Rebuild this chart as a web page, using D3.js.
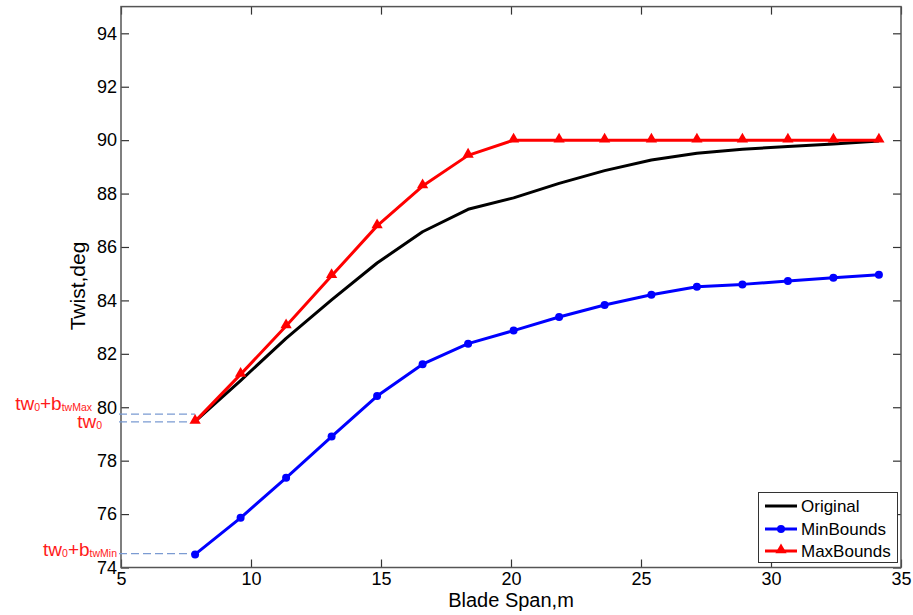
<!DOCTYPE html>
<html>
<head>
<meta charset="utf-8">
<script src="https://cdn.jsdelivr.net/npm/d3@7"></script>
<style>
  html, body { margin: 0; padding: 0; background: #fff; }
  svg { display: block; font-family: "Liberation Sans", Arial, sans-serif; }
</style>
</head>
<body>
<svg id="chart" width="913" height="615"></svg>
<script>
// Blade stations along the span (m)
const span = [7.85, 9.6, 11.35, 13.1, 14.85, 16.6, 18.35, 20.1, 21.85, 23.6, 25.4, 27.15, 28.9, 30.65, 32.4, 34.15];
// Twist distributions (deg)
const original  = [79.47, 81.0, 82.58, 84.02, 85.4, 86.57, 87.41, 87.84, 88.38, 88.86, 89.26, 89.51, 89.66, 89.76, 89.86, 89.97];
const minBounds = [74.49, 75.86, 77.36, 78.9, 80.42, 81.61, 82.38, 82.87, 83.38, 83.83, 84.21, 84.51, 84.6, 84.73, 84.85, 84.96];
const maxBounds = [79.47, 81.23, 83.04, 84.92, 86.79, 88.28, 89.43, 90, 90, 90, 90, 90, 90, 90, 90, 90];
// Reference twist levels at the root station
const tw0 = 79.45, twMaxRef = 79.74, twMinRef = 74.52;
const xTicks = [5, 10, 15, 20, 25, 30, 35];
const yTicks = [74, 76, 78, 80, 82, 84, 86, 88, 90, 92, 94];
const seriesNames = ["Original", "MinBounds", "MaxBounds"];

const svg = d3.select("#chart");
const L = 121, R = 901, T = 6.6, B = 567.5;
const x = d3.scaleLinear().domain([5, 35]).range([L, R]);
const y = d3.scaleLinear().domain([74, 95]).range([B, T]);

// Tick marks (inside, mirrored on all four sides)
const tickLen = 8;
const font = "Liberation Sans, Arial, sans-serif";
const gAx = svg.append("g");
gAx.append("g").attr("transform", `translate(0,${B})`)
  .call(d3.axisBottom(x).tickValues(xTicks).tickSizeInner(-tickLen).tickSizeOuter(0).tickPadding(5))
  .call(g => g.select(".domain").remove())
  .call(g => g.selectAll("text").attr("font-size", 18).attr("fill", "#000").attr("font-family", font));
gAx.append("g").attr("transform", `translate(0,${T})`)
  .call(d3.axisTop(x).tickValues(xTicks).tickSizeInner(-tickLen).tickSizeOuter(0).tickFormat(""))
  .call(g => g.select(".domain").remove());
gAx.append("g").attr("transform", `translate(${L},0)`)
  .call(d3.axisLeft(y).tickValues(yTicks).tickSizeInner(-tickLen).tickSizeOuter(0).tickPadding(4))
  .call(g => g.select(".domain").remove())
  .call(g => g.selectAll("text").attr("font-size", 18).attr("fill", "#000").attr("font-family", font));
gAx.append("g").attr("transform", `translate(${R},0)`)
  .call(d3.axisRight(y).tickValues(yTicks).tickSizeInner(-tickLen).tickSizeOuter(0).tickFormat(""))
  .call(g => g.select(".domain").remove());
gAx.selectAll(".tick line").attr("stroke", "#333").attr("stroke-width", 1.2);

// Axes box
svg.append("rect").attr("x", L).attr("y", T).attr("width", R - L).attr("height", B - T)
  .attr("fill", "none").attr("stroke", "#555").attr("stroke-width", 1.5);

// Reference dashed levels
const dashColor = "#7b9bd2";
[tw0, twMaxRef, twMinRef].forEach(v => {
  svg.append("line").attr("x1", L - 2).attr("x2", x(span[0]))
    .attr("y1", y(v)).attr("y2", y(v))
    .attr("stroke", dashColor).attr("stroke-width", 1.2).attr("stroke-dasharray", "8,4");
});

// Series
const line = d3.line().x((d, i) => x(span[i])).y(d => y(d));
svg.append("path").datum(original).attr("d", line)
  .attr("fill", "none").attr("stroke", "#000").attr("stroke-width", 3).attr("stroke-linejoin", "round");
svg.append("path").datum(minBounds).attr("d", line)
  .attr("fill", "none").attr("stroke", "#0000ff").attr("stroke-width", 3).attr("stroke-linejoin", "round");
svg.append("g").selectAll("circle").data(minBounds).join("circle")
  .attr("cx", (d, i) => x(span[i])).attr("cy", d => y(d)).attr("r", 4).attr("fill", "#0000ff");
svg.append("path").datum(maxBounds).attr("d", line)
  .attr("fill", "none").attr("stroke", "#ff0000").attr("stroke-width", 3).attr("stroke-linejoin", "round");
const tri = d3.symbol().type(d3.symbolTriangle).size(55);
svg.append("g").selectAll("path").data(maxBounds).join("path")
  .attr("d", tri).attr("transform", (d, i) => `translate(${x(span[i])},${y(d) - 1})`).attr("fill", "#ff0000");

// Axis titles
svg.append("text").attr("x", 511).attr("y", 607).attr("text-anchor", "middle")
  .attr("font-size", 20).attr("fill", "#000").text("Blade Span,m");
svg.append("text").attr("transform", "translate(85,286) rotate(-90)").attr("text-anchor", "middle")
  .attr("font-size", 21).attr("fill", "#000").text("Twist,deg");

// Red reference labels with subscripts
function refLabel(xr, yb, parts) {
  const t = svg.append("text").attr("x", xr).attr("y", yb).attr("text-anchor", "end").attr("fill", "#ff1a1a");
  let lowered = false;
  parts.forEach(([s, sub]) => {
    const ts = t.append("tspan").text(s).attr("font-size", sub ? 10.5 : 19);
    if (sub && !lowered) { ts.attr("dy", 1); lowered = true; }
    else if (!sub && lowered) { ts.attr("dy", -1); lowered = false; }
  });
}
refLabel(92, 410, [["tw", false], ["0", true], ["+b", false], ["twMax", true]]);
refLabel(102, 428, [["tw", false], ["0", true]]);
refLabel(117, 556, [["tw", false], ["0", true], ["+b", false], ["twMin", true]]);

// Legend
const lg = svg.append("g");
lg.append("rect").attr("x", 758.5).attr("y", 492.5).attr("width", 139).attr("height", 70)
  .attr("fill", "#fff").attr("stroke", "#333").attr("stroke-width", 1);
const legendColors = ["#000", "#0000ff", "#ff0000"];
const legendY = [506, 529, 551];
seriesNames.forEach((name, i) => {
  const yy = legendY[i];
  lg.append("line").attr("x1", 765).attr("x2", 797).attr("y1", yy).attr("y2", yy)
    .attr("stroke", legendColors[i]).attr("stroke-width", 3);
  if (i === 1) lg.append("circle").attr("cx", 781).attr("cy", yy).attr("r", 4).attr("fill", legendColors[i]);
  if (i === 2) lg.append("path").attr("d", tri).attr("transform", `translate(781,${yy - 1})`).attr("fill", legendColors[i]);
  lg.append("text").attr("x", 801).attr("y", yy).attr("dy", "0.35em")
    .attr("font-size", 17).attr("fill", "#000").text(name);
});
</script>
</body>
</html>
